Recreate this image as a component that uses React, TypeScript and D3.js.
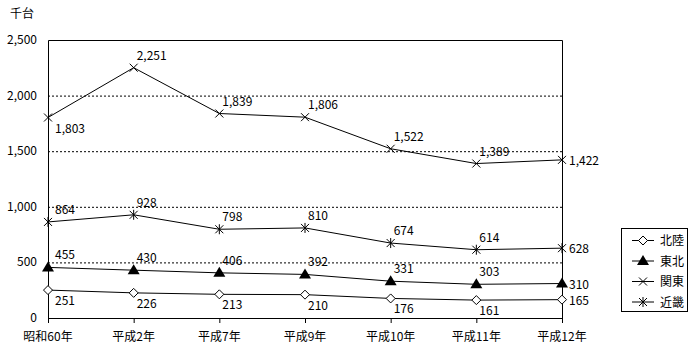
import { useEffect, useRef } from "react";
import * as d3 from "d3";

const categories = ["昭和60年", "平成2年", "平成7年", "平成9年", "平成10年", "平成11年", "平成12年"];
const hokuriku = [251, 226, 213, 210, 176, 161, 165];
const tohoku = [455, 430, 406, 392, 331, 303, 310];
const kanto = [1803, 2251, 1839, 1806, 1522, 1389, 1422];
const kinki = [864, 928, 798, 810, 674, 614, 628];
const yTicks = [0, 500, 1000, 1500, 2000, 2500];

const width = 700;
const height = 360;
const marginLeft = 48;
const marginRight = 138;
const marginTop = 40;
const marginBottom = 42;
const font = "'Noto Sans CJK JP', sans-serif";

// label placement: first point, middle points
const series = [
  { name: "北陸", values: hokuriku, marker: "diamond", first: "below", mid: "below" },
  { name: "東北", values: tohoku, marker: "triangle", first: "above", mid: "above" },
  { name: "関東", values: kanto, marker: "cross", first: "below", mid: "above" },
  { name: "近畿", values: kinki, marker: "star", first: "above", mid: "above" },
];

const drawMarker = (g: any, kind: string, x: number, y: number) => {
  if (kind === "diamond") {
    g.append("path")
      .attr("d", `M${x},${y - 4.5}L${x + 4.5},${y}L${x},${y + 4.5}L${x - 4.5},${y}Z`)
      .attr("fill", "white")
      .attr("stroke", "black");
  } else if (kind === "triangle") {
    g.append("path")
      .attr("d", `M${x},${y - 6}L${x + 6},${y + 4}L${x - 6},${y + 4}Z`)
      .attr("fill", "black");
  } else {
    const s = 4;
    let d = `M${x - s},${y - s}L${x + s},${y + s}M${x - s},${y + s}L${x + s},${y - s}`;
    if (kind === "star") d += `M${x},${y - s - 1}L${x},${y + s + 1}`;
    g.append("path").attr("d", d).attr("stroke", "black").attr("fill", "none");
  }
};

const App = () => {
  const ref = useRef<SVGSVGElement>(null);

  useEffect(() => {
    const svg = d3.select(ref.current);
    svg.selectAll("*").remove();

    const x = d3
      .scalePoint()
      .domain(categories)
      .range([marginLeft, width - marginRight]);
    const y = d3
      .scaleLinear()
      .domain([0, 2500])
      .range([height - marginBottom, marginTop]);

    const plotRight = width - marginRight;
    const plotBottom = height - marginBottom;

    // grid lines
    svg
      .append("g")
      .selectAll("line")
      .data(yTicks.filter((t) => t > 0 && t < 2500))
      .join("line")
      .attr("x1", marginLeft)
      .attr("x2", plotRight)
      .attr("y1", (d) => y(d) + 0.5)
      .attr("y2", (d) => y(d) + 0.5)
      .attr("stroke", "black")
      .attr("stroke-dasharray", "2,2");

    // frame
    svg
      .append("path")
      .attr(
        "d",
        `M${marginLeft + 0.5},${plotBottom + 0.5}V${marginTop + 0.5}H${plotRight + 0.5}V${plotBottom + 0.5}H${marginLeft + 0.5}`
      )
      .attr("fill", "none")
      .attr("stroke", "black");

    // x ticks
    svg
      .append("g")
      .selectAll("line")
      .data(categories)
      .join("line")
      .attr("x1", (d) => x(d)! + 0.5)
      .attr("x2", (d) => x(d)! + 0.5)
      .attr("y1", plotBottom)
      .attr("y2", plotBottom + 5)
      .attr("stroke", "black");

    // y labels
    svg
      .append("g")
      .selectAll("text")
      .data(yTicks)
      .join("text")
      .attr("x", 37)
      .attr("y", (d) => y(d) + 4)
      .attr("text-anchor", "end")
      .attr("font-size", 12)
      .attr("font-family", font)
      .text((d) => d3.format(",")(d));

    // x labels
    svg
      .append("g")
      .selectAll("text")
      .data(categories)
      .join("text")
      .attr("x", (d) => x(d)!)
      .attr("y", plotBottom + 23)
      .attr("text-anchor", "middle")
      .attr("font-size", 12)
      .attr("font-family", font)
      .text((d) => d);

    svg
      .append("text")
      .attr("x", 10)
      .attr("y", 18)
      .attr("font-size", 12)
      .attr("font-family", font)
      .text("千台");

    const line = d3
      .line<number>()
      .x((_, i) => x(categories[i])!)
      .y((d) => y(d));

    series.forEach((s) => {
      const g = svg.append("g");
      g.append("path")
        .attr("d", line(s.values))
        .attr("fill", "none")
        .attr("stroke", "black");
      s.values.forEach((v, i) => {
        const px = x(categories[i])!;
        const py = y(v);
        drawMarker(g, s.marker, px, py);
        const last = i === s.values.length - 1;
        const place = last ? "right" : i === 0 ? s.first : s.mid;
        let lx = px + (i === 0 ? 7 : 3);
        let ly = py - 8;
        if (place === "below") ly = py + 15;
        if (place === "right") {
          lx = px + 7;
          ly = py + 5;
        }
        g.append("text")
          .attr("x", lx)
          .attr("y", ly)
          .attr("font-size", 12)
          .attr("font-family", font)
          .text(d3.format(",")(v));
      });
    });

    // legend
    const lg = svg.append("g");
    lg.append("rect")
      .attr("x", 621.5)
      .attr("y", 228.5)
      .attr("width", 66)
      .attr("height", 83)
      .attr("fill", "white")
      .attr("stroke", "black");
    series.forEach((s, i) => {
      const ly = 240 + i * 20.5;
      lg.append("line")
        .attr("x1", 632)
        .attr("x2", 654)
        .attr("y1", ly + 0.5)
        .attr("y2", ly + 0.5)
        .attr("stroke", "black");
      drawMarker(lg, s.marker, 643, ly + 0.5);
      lg.append("text")
        .attr("x", 660)
        .attr("y", ly + 5)
        .attr("font-size", 12)
        .attr("font-family", font)
        .text(s.name);
    });
  }, []);

  return (
    <svg
      ref={ref}
      width={width}
      height={height}
      viewBox={`0 0 ${width} ${height}`}
      style={{ position: "absolute", left: 0, top: 0, background: "white" }}
    />
  );
};

export default App;
